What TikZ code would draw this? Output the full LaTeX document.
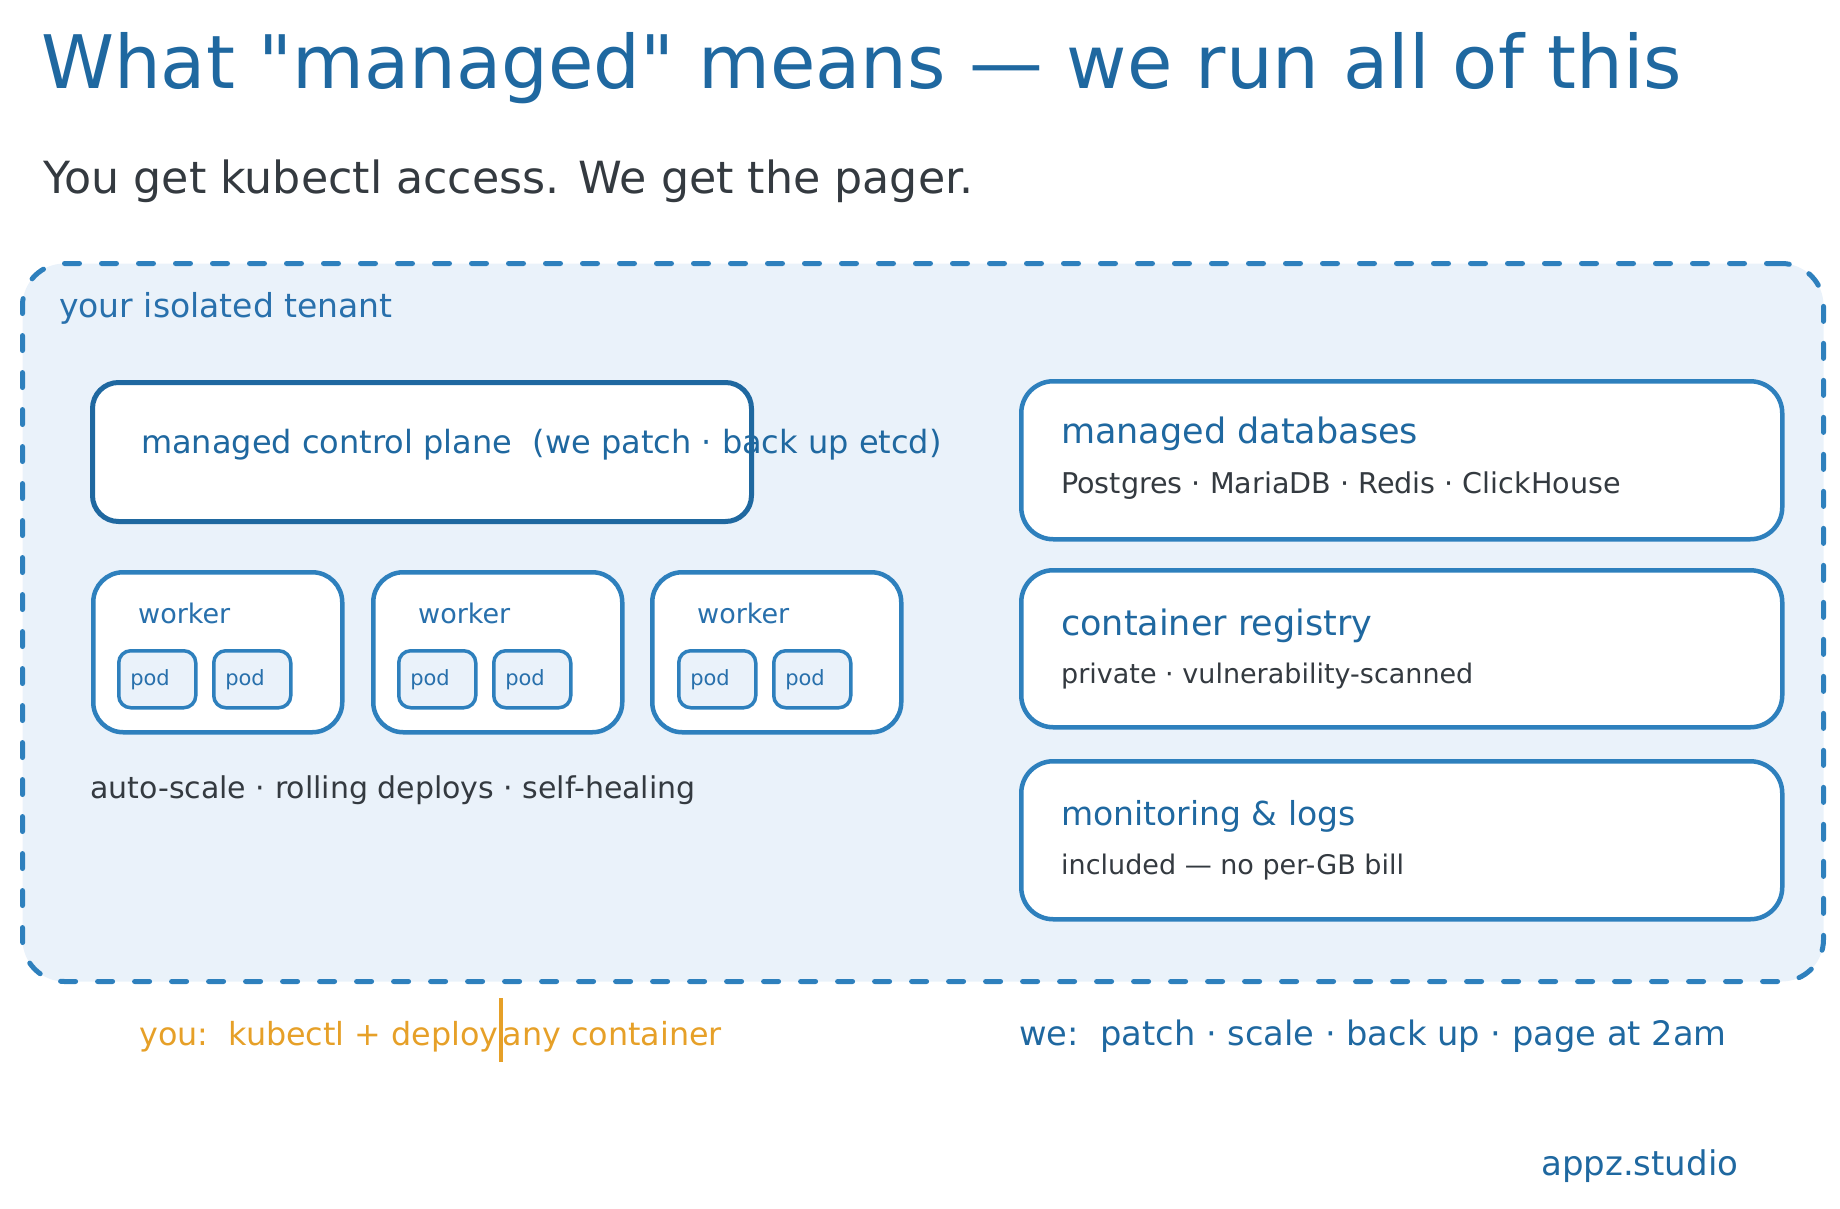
\documentclass[tikz,border=0pt]{standalone}
\usepackage{fontspec}
\setmainfont{DejaVu Sans}
\newfontfamily\plainfont{DejaVu Sans}
\usetikzlibrary{positioning}

\begin{document}
\begin{tikzpicture}[x=1pt,y=-1pt,
	txt/.style={anchor=base west, inner sep=0pt},
	tenantbox/.style={draw=boxblue, fill=tenantfill, line width=5pt, rounded corners=42pt, dash pattern=on 15pt off 22pt, line cap=round, inner sep=0pt, anchor=north west},
	planebox/.style={draw=deepblue, fill=white, line width=5pt, rounded corners=26pt, inner sep=0pt, anchor=north west},
	svcbox/.style={draw=boxblue, fill=white, line width=4.5pt, rounded corners=32pt, inner sep=0pt, anchor=north west, minimum width=761pt},
	workerbox/.style={draw=boxblue, fill=white, line width=4.5pt, rounded corners=30pt, inner sep=0pt, anchor=north west, minimum width=249pt, minimum height=160pt},
	podbox/.style={draw=boxblue, fill=tenantfill, line width=3.5pt, rounded corners=12pt, inner sep=0pt, anchor=north west, minimum width=77pt, minimum height=57pt, text width=54pt, align=left, text=labelblue, font=\fontsize{21}{21}\selectfont}]
	\definecolor{deepblue}{RGB}{31,104,160}
	\definecolor{boxblue}{RGB}{46,128,189}
	\definecolor{labelblue}{RGB}{40,112,172}
	\definecolor{tenantfill}{RGB}{234,242,250}
	\definecolor{textdark}{RGB}{52,58,64}
	\definecolor{youorange}{RGB}{230,160,40}
	\useasboundingbox (0,0) rectangle (1840,1208);
	% heading
	\node[txt, text=deepblue, font=\plainfont\fontsize{73.8}{80}\selectfont] (title) at (41,88) {What "managed" means — we run all of this};
	\node[txt, text=textdark, font=\fontsize{44.3}{50}\selectfont] (subtitle) at (43,193) {You get kubectl access. We get the pager.};
	% tenant
	\node[tenantbox, minimum width=1801pt, minimum height=718pt] (tenant) at (20,261) {};
	\node[txt, text=labelblue, font=\fontsize{33}{38}\selectfont] (tenantlabel) at (59,317) {your isolated tenant};
	% control plane and workers
	\node[planebox, minimum width=659pt, minimum height=139pt] (plane) at (90,380) {};
	\node[txt, text=deepblue, font=\fontsize{32}{36}\selectfont] (planelabel) at (141,453) {managed control plane\ \ (we patch · back up etcd)};
	\node[workerbox] (workerA) at (91,570) {};
	\node[workerbox] (workerB) at (371,570) {};
	\node[workerbox] (workerC) at (650,570) {};
	\node[txt, text=labelblue, font=\fontsize{27}{30}\selectfont] (workerAlabel) at (138,623) {worker};
	\node[txt, text=labelblue, font=\fontsize{27}{30}\selectfont] (workerBlabel) at (418,623) {worker};
	\node[txt, text=labelblue, font=\fontsize{27}{30}\selectfont] (workerClabel) at (697,623) {worker};
	\node[podbox] (podA1) at (117,649) {pod};
	\node[podbox] (podA2) at (212,649) {pod};
	\node[podbox] (podB1) at (397,649) {pod};
	\node[podbox] (podB2) at (492,649) {pod};
	\node[podbox] (podC1) at (677,649) {pod};
	\node[podbox] (podC2) at (772,649) {pod};
	\node[txt, text=textdark, font=\fontsize{30}{34}\selectfont] (workernote) at (90,798) {auto-scale · rolling deploys · self-healing};
	% managed services
	\node[svcbox, minimum height=158pt] (db) at (1019,379) {};
	\node[txt, text=deepblue, font=\fontsize{35}{40}\selectfont] (dblabel) at (1061,443) {managed databases};
	\node[txt, text=textdark, font=\fontsize{28.6}{32}\selectfont] (dbnote) at (1061,493) {Postgres · MariaDB · Redis · ClickHouse};
	\node[svcbox, minimum height=157pt] (registry) at (1019,568) {};
	\node[txt, text=deepblue, font=\fontsize{35}{40}\selectfont] (registrylabel) at (1061,635) {container registry};
	\node[txt, text=textdark, font=\fontsize{27}{32}\selectfont] (registrynote) at (1061,683) {private · vulnerability-scanned};
	\node[svcbox, minimum height=158pt] (monitor) at (1019,759) {};
	\node[txt, text=deepblue, font=\fontsize{33}{38}\selectfont] (monitorlabel) at (1061,825) {monitoring \& logs};
	\node[txt, text=textdark, font=\fontsize{27}{32}\selectfont] (monitornote) at (1061,874) {included — no per-GB bill};
	% who does what
	\node[txt, text=youorange, font=\fontsize{31.8}{36}\selectfont] (you) at (139,1045) {you:\ \ kubectl + deploy\rule[-17pt]{4pt}{64pt}any container};
	\node[txt, text=deepblue, font=\fontsize{33.7}{38}\selectfont] (we) at (1019,1045) {we:\ \ patch · scale · back up · page at 2am};
	\node[txt, text=deepblue, font=\fontsize{34}{38}\selectfont] (brand) at (1541,1175) {appz.studio};
\end{tikzpicture}
\end{document}
